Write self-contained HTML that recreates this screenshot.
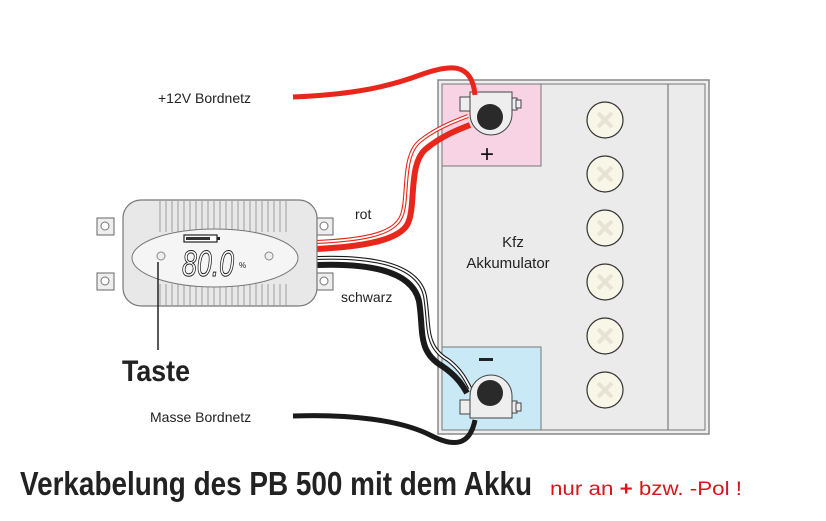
<!DOCTYPE html>
<html><head><meta charset="utf-8"><style>html,body{margin:0;padding:0;background:#fff}svg{display:block}</style></head>
<body>
<svg width="826" height="521" viewBox="0 0 826 521" xmlns="http://www.w3.org/2000/svg" font-family="Liberation Sans, sans-serif">
<rect x="438" y="80" width="271" height="354" fill="#eeeeee" stroke="#888" stroke-width="1.5"/>
<rect x="442" y="84" width="263" height="346" fill="#ebebeb" stroke="#777" stroke-width="1"/>
<line x1="668" y1="84" x2="668" y2="430" stroke="#666" stroke-width="1"/>
<rect x="442" y="84" width="99" height="82" fill="#f7d3e3" stroke="#777" stroke-width="1"/>
<rect x="442" y="347" width="99" height="83" fill="#c9e9f7" stroke="#777" stroke-width="1"/>
<g fill="#f8f6e6" stroke="#333" stroke-width="1.2">
<circle cx="605" cy="120" r="18"/><circle cx="605" cy="174" r="18"/><circle cx="605" cy="228" r="18"/>
<circle cx="605" cy="282" r="18"/><circle cx="605" cy="336" r="18"/><circle cx="605" cy="390" r="18"/>
</g>
<g stroke="#e6e3d4" stroke-width="4">
<path d="M598 113l14 14M612 113l-14 14M598 167l14 14M612 167l-14 14M598 221l14 14M612 221l-14 14M598 275l14 14M612 275l-14 14M598 329l14 14M612 329l-14 14M598 383l14 14M612 383l-14 14"/>
</g>
<text x="513" y="247" font-size="15" text-anchor="middle" fill="#222">Kfz</text>
<text x="508" y="268" font-size="15" text-anchor="middle" fill="#222">Akkumulator</text>
<g stroke="#444" stroke-width="1" fill="#eee">
<rect x="460" y="97" width="11" height="14"/><rect x="509" y="98" width="8" height="12"/><rect x="516" y="100" width="5" height="8"/>
<path d="M470 92h42v22a21 21 0 0 1-42 0z"/>
</g>
<circle cx="490" cy="117" r="13" fill="#2a2a2a"/>
<text x="487" y="162" font-size="24" text-anchor="middle" fill="#111">+</text>
<g stroke="#444" stroke-width="1" fill="#eee">
<rect x="460" y="400" width="11" height="14"/><rect x="509" y="401" width="8" height="12"/><rect x="516" y="403" width="5" height="8"/>
<path d="M470 418h42v-22a21 21 0 0 0-42 0z"/>
</g>
<circle cx="490" cy="393" r="13" fill="#2a2a2a"/>
<rect x="479" y="358" width="14" height="3" fill="#222"/>
<path d="M293 97C340 95 380 90 420 75C450 64 472 62 475 95" fill="none" stroke="#e8261b" stroke-width="5"/>
<path d="M316 249C360 247 397 241 407 225C417 208 407 163 427 148C442 136 457 130 470 125" fill="none" stroke="#e8261b" stroke-width="6"/>
<path d="M316 242C360 240 391 235 400 219C410 203 400 157 420 141C435 129 452 122 468 116" fill="none" stroke="#e8261b" stroke-width="4"/>
<path d="M316 242C360 240 391 235 400 219C410 203 400 157 420 141C435 129 452 122 468 116" fill="none" stroke="#fff" stroke-width="1.8"/>
<path d="M316 265C370 263 412 271 419 301C424 331 417 351 442 366C457 376 463 386 467 393" fill="none" stroke="#1a1a1a" stroke-width="6"/>
<path d="M316 258C372 256 418 264 425 296C430 326 424 346 448 360C461 370 466 380 470 388" fill="none" stroke="#1a1a1a" stroke-width="4"/>
<path d="M316 258C372 256 418 264 425 296C430 326 424 346 448 360C461 370 466 380 470 388" fill="none" stroke="#fff" stroke-width="1.8"/>
<path d="M293 416C350 414 400 420 430 435C455 448 470 445 475 420" fill="none" stroke="#1a1a1a" stroke-width="5"/>
<text x="355" y="219" font-size="14" fill="#222">rot</text>
<text x="341" y="302" font-size="14" fill="#222">schwarz</text>
<text x="158" y="103" font-size="14" fill="#222">+12V Bordnetz</text>
<text x="150" y="422" font-size="14" fill="#222">Masse Bordnetz</text>
<g stroke="#666" stroke-width="1" fill="#eee">
<rect x="97" y="218" width="17" height="17"/><rect x="97" y="273" width="17" height="17"/>
<rect x="316" y="218" width="17" height="17"/><rect x="316" y="273" width="17" height="17"/>
</g>
<g fill="#fff" stroke="#777" stroke-width="1"><circle cx="105" cy="226" r="4"/><circle cx="105" cy="281" r="4"/><circle cx="324" cy="226" r="4"/><circle cx="324" cy="281" r="4"/></g>
<rect x="123" y="200" width="194" height="106" rx="18" fill="#e8e8e8" stroke="#777" stroke-width="1.2"/>
<g stroke="#888" stroke-width="0.8">
<path d="M160 201V232M166 201V232M172 201V232M178 201V232M184 201V232M190 201V232M196 201V232M202 201V232M208 201V232M214 201V232M220 201V232M226 201V232M232 201V232M238 201V232M244 201V232M250 201V232M256 201V232M262 201V232M268 201V232M274 201V232M280 201V232M286 201V232"/>
<path d="M160 284V305M166 284V305M172 284V305M178 284V305M184 284V305M190 284V305M196 284V305M202 284V305M208 284V305M214 284V305M220 284V305M226 284V305M232 284V305M238 284V305M244 284V305M250 284V305M256 284V305M262 284V305M268 284V305M274 284V305M280 284V305M286 284V305"/>
</g>
<ellipse cx="215" cy="258" rx="83" ry="29" fill="#f5f5f5" stroke="#777" stroke-width="1"/>
<rect x="184" y="235" width="33" height="7" fill="#fff" stroke="#222" stroke-width="1.2"/>
<rect x="186" y="237" width="24" height="3" fill="#333"/><rect x="217" y="237" width="3" height="3" fill="#222"/>
<text x="182" y="276" font-size="36" font-style="italic" fill="#fff" stroke="#222" stroke-width="1" textLength="52" lengthAdjust="spacingAndGlyphs">80.0</text>
<text x="239" y="268" font-size="8" fill="#222">%</text>
<circle cx="161" cy="256" r="4" fill="#eee" stroke="#888"/>
<circle cx="269" cy="256" r="4" fill="#eee" stroke="#888"/>
<line x1="158" y1="262" x2="158" y2="350" stroke="#222" stroke-width="1.5"/>
<text x="122" y="381" font-size="30" font-weight="bold" fill="#222" textLength="68" lengthAdjust="spacingAndGlyphs">Taste</text>
<text x="20" y="495" font-size="33" font-weight="bold" fill="#222" textLength="512" lengthAdjust="spacingAndGlyphs">Verkabelung des PB 500 mit dem Akku</text>
<text x="550" y="495" font-size="19" fill="#d8141c" textLength="192" lengthAdjust="spacingAndGlyphs">nur an <tspan font-weight="bold">+</tspan> bzw. -Pol !</text>
</svg>
</body></html>
